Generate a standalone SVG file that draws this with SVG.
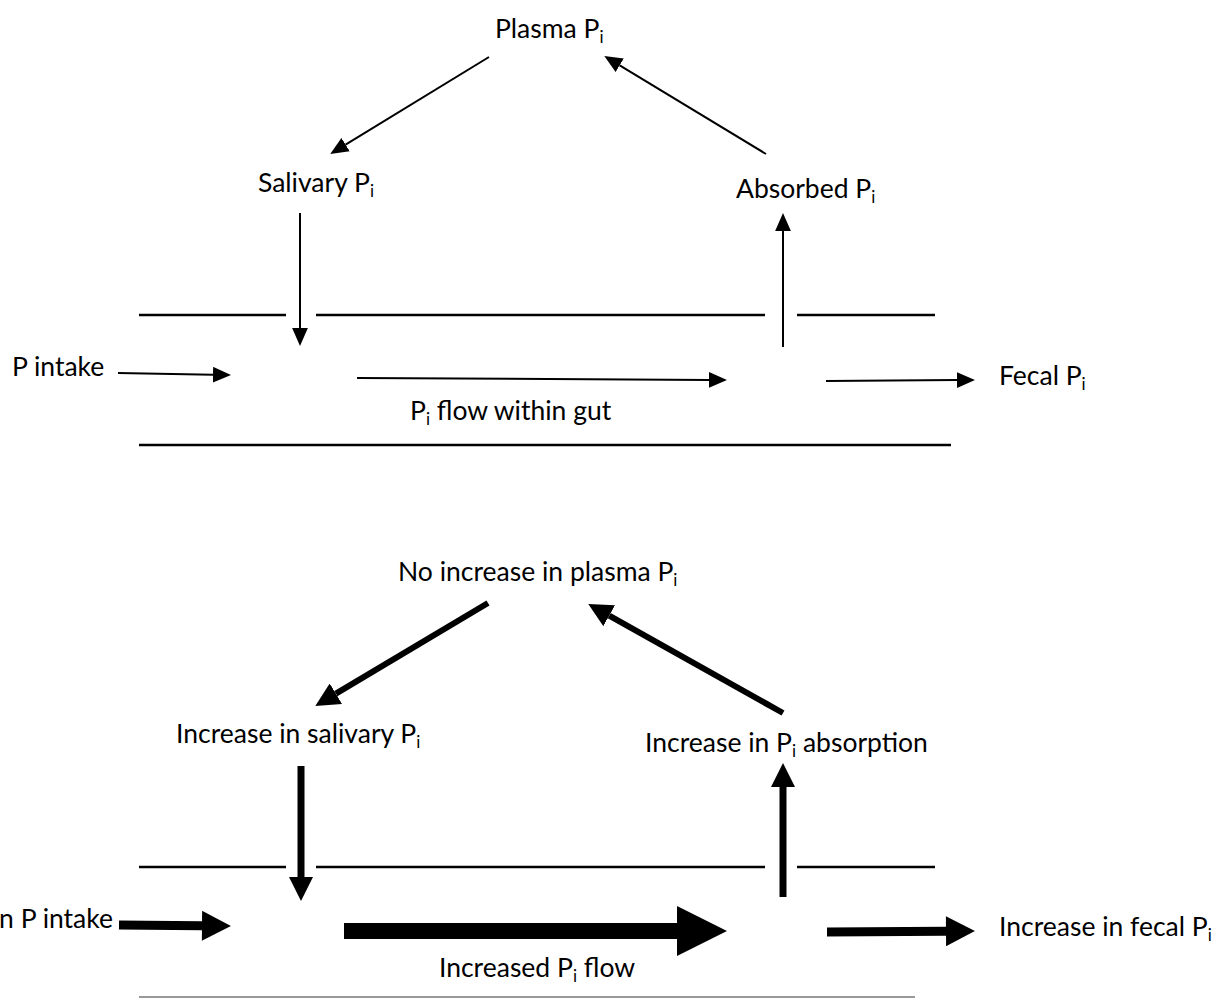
<svg xmlns="http://www.w3.org/2000/svg" width="1221" height="998" viewBox="0 0 1221 998">
<style>
text{font-family:Lato,"Liberation Sans",sans-serif;font-size:26.5px;fill:#000}
.sub{font-size:17px}
.gut{stroke:#000;stroke-width:2.5;fill:none}
.c{stroke:#000;fill:none;stroke-linecap:butt}
</style>
<defs>
<marker id="mS" markerUnits="userSpaceOnUse" markerWidth="18" markerHeight="16" refX="0" refY="7" orient="auto" viewBox="0 0 16 14"><path d="M0,0 L16,7 L0,14 Z" fill="#000"/></marker>
<marker id="mM" markerUnits="userSpaceOnUse" markerWidth="24" markerHeight="24" refX="0" refY="11" orient="auto" viewBox="0 0 22 22"><path d="M0,0 L22,11 L0,22 Z" fill="#000"/></marker>
<marker id="mL" markerUnits="userSpaceOnUse" markerWidth="30" markerHeight="30" refX="0" refY="14" orient="auto" viewBox="0 0 27 28"><path d="M0,0 L27,14 L0,28 Z" fill="#000"/></marker>
<marker id="mX" markerUnits="userSpaceOnUse" markerWidth="50" markerHeight="50" refX="0" refY="24" orient="auto" viewBox="0 0 48 48"><path d="M0,0 L48,24 L0,48 Z" fill="#000"/></marker>
</defs>
<rect width="1221" height="998" fill="#fff"/>
<g id="gut-top">
<line class="gut" x1="139" y1="315" x2="286" y2="315"/>
<line class="gut" x1="316" y1="315" x2="765" y2="315"/>
<line class="gut" x1="797" y1="315" x2="935" y2="315"/>
<line class="gut" x1="139" y1="445" x2="951" y2="445" stroke-width="3"/>
</g>
<g id="gut-bottom">
<line class="gut" x1="139" y1="867" x2="286" y2="867"/>
<line class="gut" x1="316" y1="867" x2="765" y2="867"/>
<line class="gut" x1="797" y1="867" x2="935" y2="867"/>
<line x1="139" y1="997" x2="915" y2="997" stroke="#777" stroke-width="1.5"/>
</g>
<g id="connectors">
<line class="c" stroke-width="2" x1="489" y1="57" x2="345.6" y2="144.6" marker-end="url(#mS)"/>
<line class="c" stroke-width="2" x1="766" y1="154" x2="619.7" y2="65.3" marker-end="url(#mS)"/>
<line class="c" stroke-width="2" x1="300" y1="213" x2="300" y2="328" marker-end="url(#mS)"/>
<line class="c" stroke-width="2" x1="783" y1="347" x2="783" y2="231" marker-end="url(#mS)"/>
<line class="c" stroke-width="2" x1="118" y1="373" x2="213" y2="374.7" marker-end="url(#mS)"/>
<line class="c" stroke-width="2" x1="357" y1="378" x2="709" y2="379.9" marker-end="url(#mS)"/>
<line class="c" stroke-width="2" x1="826" y1="381" x2="957" y2="380.1" marker-end="url(#mS)"/>
<line class="c" stroke-width="6" x1="488" y1="603" x2="335.9" y2="693.7" marker-end="url(#mM)"/>
<line class="c" stroke-width="6" x1="783" y1="713" x2="609.2" y2="615.7" marker-end="url(#mM)"/>
<line class="c" stroke-width="7" x1="301" y1="766" x2="301" y2="877" marker-end="url(#mM)"/>
<line class="c" stroke-width="7" x1="783" y1="897" x2="783" y2="787" marker-end="url(#mM)"/>
<line class="c" stroke-width="9" x1="119" y1="925" x2="202" y2="925.8" marker-end="url(#mL)"/>
<line class="c" stroke-width="16" x1="344" y1="931" x2="677" y2="931" marker-end="url(#mX)"/>
<line class="c" stroke-width="9" x1="827" y1="932" x2="946" y2="931.2" marker-end="url(#mL)"/>
</g>
<g id="plasma"><text x="495" y="38">Plasma P<tspan class="sub" dy="5">i</tspan></text></g>
<g id="salivary"><text x="258" y="192">Salivary P<tspan class="sub" dy="5">i</tspan></text></g>
<g id="absorbed"><text x="736" y="198">Absorbed P<tspan class="sub" dy="5">i</tspan></text></g>
<g id="intake"><text x="12" y="376">P intake</text></g>
<g id="fecal"><text x="999" y="385">Fecal P<tspan class="sub" dy="5">i</tspan></text></g>
<g id="flow"><text x="410" y="420">P<tspan class="sub" dy="5">i</tspan><tspan dy="-5"> flow within gut</tspan></text></g>
<g id="plasma2"><text x="398" y="581">No increase in plasma P<tspan class="sub" dy="5">i</tspan></text></g>
<g id="salivary2"><text x="176" y="743">Increase in salivary P<tspan class="sub" dy="5">i</tspan></text></g>
<g id="absorption2"><text x="645" y="752">Increase in P<tspan class="sub" dy="5">i</tspan><tspan dy="-5"> absorption</tspan></text></g>
<g id="intake2"><text x="113" y="928" text-anchor="end">Increase in P intake</text></g>
<g id="fecal2"><text x="999" y="936">Increase in fecal P<tspan class="sub" dy="5">i</tspan></text></g>
<g id="flow2"><text x="537" y="977" text-anchor="middle">Increased P<tspan class="sub" dy="5">i</tspan><tspan dy="-5"> flow</tspan></text></g>
</svg>
